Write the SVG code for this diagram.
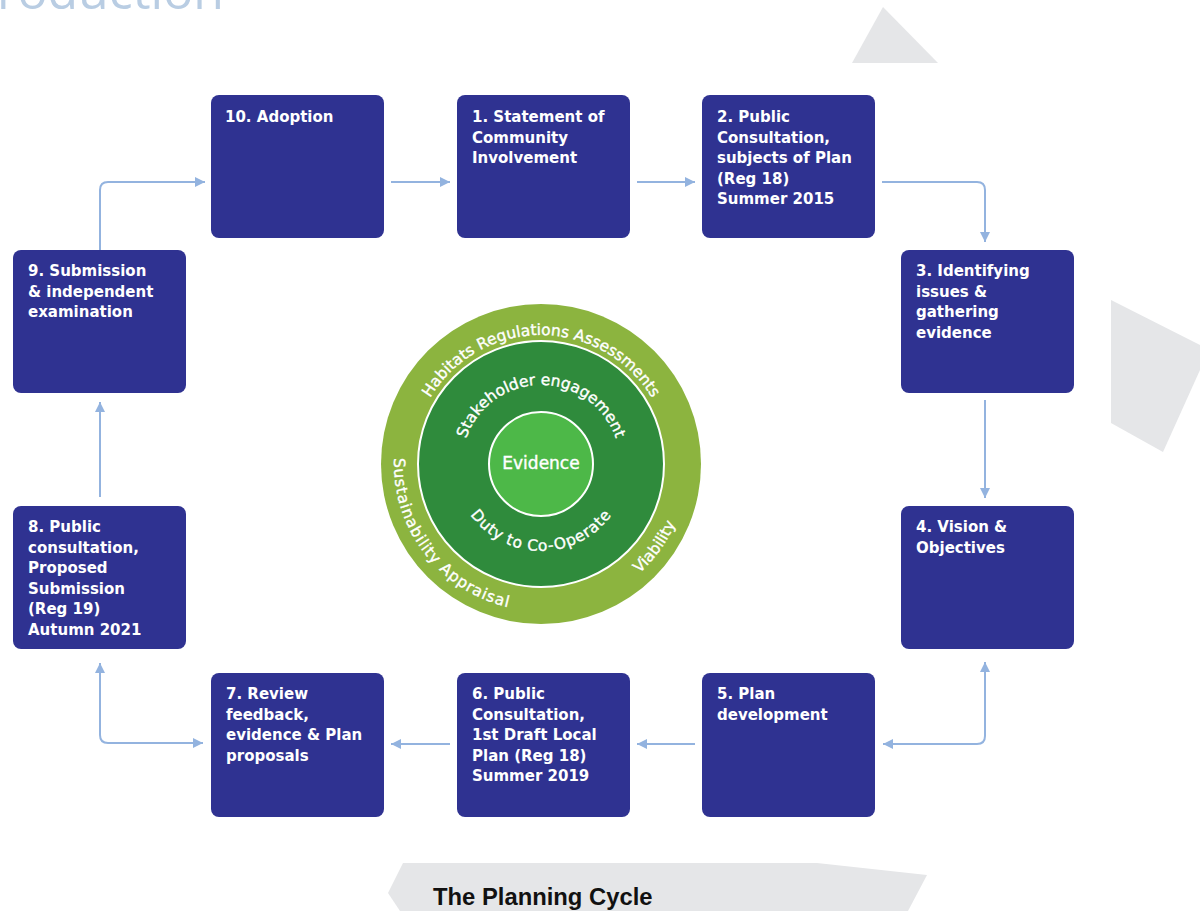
<svg xmlns="http://www.w3.org/2000/svg" width="1200" height="911" viewBox="0 0 1200 911">
  <defs>
    <style>
      .box { fill: #2f3291; }
      .lbl { font-family: "DejaVu Sans", "Liberation Sans", sans-serif; font-weight: 700; font-size: 15px; fill: #ffffff; }
      .link { fill: none; stroke: #93b3df; stroke-width: 2; }
      .ring { font-family: "DejaVu Sans", "Liberation Sans", sans-serif; font-size: 15.5px; fill: #ffffff; stroke: #ffffff; stroke-width: 0.35; }
      .deco { fill: #e5e6e8; }
    </style>
    <marker id="tip" viewBox="0 0 10 10" refX="10" refY="5" markerWidth="10" markerHeight="10" markerUnits="userSpaceOnUse" orient="auto-start-reverse">
      <path d="M0,0 L10,5 L0,10 z" fill="#93b3df"/>
    </marker>
    <!-- arcs for the ring labels, centred on (541,464) -->
    <path id="arcOuterTop" d="M412,464 A129,129 0 0 1 670,464"/>
    <path id="arcMidTop" d="M462,464 A79,79 0 0 1 620,464"/>
    <path id="arcMidBottom" d="M454,464 A87,87 0 0 0 628,464"/>
    <path id="arcOuterLeft" d="M420.6,379.7 A147,147 0 0 0 591.3,602.1"/>
    <path id="arcOuterRight" d="M566.5,608.8 A147,147 0 0 0 686.6,443.5"/>
  </defs>

  <rect width="1200" height="911" fill="#ffffff"/>

  <!-- page background pieces -->
  <g id="background">
    <text x="-3" y="9" font-family="'Open Sans', 'Liberation Sans', sans-serif" font-weight="400" font-size="50" fill="#b9cde3">roduction</text>
    <polygon class="deco" points="883,7 852,63 938,63"/>
    <polygon class="deco" points="1111,300 1200,345 1200,370 1163,452 1111,423"/>
    <polygon class="deco" points="403,863 817,863 927,875 908,911 400,911 388,893"/>
    <text x="433" y="905" font-family="'Liberation Sans', Arial, sans-serif" font-weight="700" font-size="23.8" fill="#111111">The Planning Cycle</text>
  </g>

  <!-- connectors -->
  <g id="connectors">
    <path class="link" d="M100,250 V190 Q100,182 108,182 H205" marker-end="url(#tip)"/>
    <path class="link" d="M391,182 H450" marker-end="url(#tip)"/>
    <path class="link" d="M637,182 H695" marker-end="url(#tip)"/>
    <path class="link" d="M882,182 H977 Q985,182 985,190 V242" marker-end="url(#tip)"/>
    <path class="link" d="M985,400 V498" marker-end="url(#tip)"/>
    <path class="link" d="M883,744 H977 Q985,744 985,736 V662" marker-start="url(#tip)" marker-end="url(#tip)"/>
    <path class="link" d="M695,744 H637" marker-end="url(#tip)"/>
    <path class="link" d="M450,744 H391" marker-end="url(#tip)"/>
    <path class="link" d="M100,663 V735 Q100,743 108,743 H203" marker-start="url(#tip)" marker-end="url(#tip)"/>
    <path class="link" d="M100,497 V402" marker-end="url(#tip)"/>
  </g>

  <!-- central rings -->
  <g id="rings">
    <circle cx="541" cy="464" r="160" fill="#8cb43f"/>
    <circle cx="541" cy="464" r="123" fill="#2f8b3c" stroke="#ffffff" stroke-width="2"/>
    <circle cx="541" cy="464" r="52" fill="#4db848" stroke="#ffffff" stroke-width="2"/>
    <text class="ring"><textPath href="#arcOuterTop" startOffset="50%" text-anchor="middle">Habitats Regulations Assessments</textPath></text>
    <text class="ring"><textPath href="#arcMidTop" startOffset="50%" text-anchor="middle">Stakeholder engagement</textPath></text>
    <text class="ring" letter-spacing="0.7"><textPath href="#arcMidBottom" startOffset="50%" text-anchor="middle">Duty to Co-Operate</textPath></text>
    <text class="ring" letter-spacing="0.9"><textPath href="#arcOuterLeft" startOffset="50%" text-anchor="middle">Sustainability Appraisal</textPath></text>
    <text class="ring"><textPath href="#arcOuterRight" startOffset="50%" text-anchor="middle">Viability</textPath></text>
    <text x="541" y="469" text-anchor="middle" font-family="'DejaVu Sans', 'Liberation Sans', sans-serif" font-size="17" fill="#ffffff" stroke="#ffffff" stroke-width="0.4">Evidence</text>
  </g>

  <!-- stage boxes -->
  <g id="step10">
    <rect class="box" x="211" y="95" width="173" height="143" rx="8"/>
    <text class="lbl" x="225" y="122">10. Adoption</text>
  </g>
  <g id="step1">
    <rect class="box" x="457" y="95" width="173" height="143" rx="8"/>
    <text class="lbl" x="472" y="122"><tspan x="472">1. Statement of</tspan><tspan x="472" dy="20.5">Community</tspan><tspan x="472" dy="20.5">Involvement</tspan></text>
  </g>
  <g id="step2">
    <rect class="box" x="702" y="95" width="173" height="143" rx="8"/>
    <text class="lbl" x="717" y="122"><tspan x="717">2. Public</tspan><tspan x="717" dy="20.5">Consultation,</tspan><tspan x="717" dy="20.5">subjects of Plan</tspan><tspan x="717" dy="20.5">(Reg 18)</tspan><tspan x="717" dy="20.5">Summer 2015</tspan></text>
  </g>
  <g id="step3">
    <rect class="box" x="901" y="250" width="173" height="143" rx="8"/>
    <text class="lbl" x="916" y="276"><tspan x="916">3. Identifying</tspan><tspan x="916" dy="20.5">issues &amp;</tspan><tspan x="916" dy="20.5">gathering</tspan><tspan x="916" dy="20.5">evidence</tspan></text>
  </g>
  <g id="step4">
    <rect class="box" x="901" y="506" width="173" height="143" rx="8"/>
    <text class="lbl" x="916" y="532"><tspan x="916">4. Vision &amp;</tspan><tspan x="916" dy="20.5">Objectives</tspan></text>
  </g>
  <g id="step5">
    <rect class="box" x="702" y="673" width="173" height="144" rx="8"/>
    <text class="lbl" x="717" y="699"><tspan x="717">5. Plan</tspan><tspan x="717" dy="20.5">development</tspan></text>
  </g>
  <g id="step6">
    <rect class="box" x="457" y="673" width="173" height="144" rx="8"/>
    <text class="lbl" x="472" y="699"><tspan x="472">6. Public</tspan><tspan x="472" dy="20.5">Consultation,</tspan><tspan x="472" dy="20.5">1st Draft Local</tspan><tspan x="472" dy="20.5">Plan (Reg 18)</tspan><tspan x="472" dy="20.5">Summer 2019</tspan></text>
  </g>
  <g id="step7">
    <rect class="box" x="211" y="673" width="173" height="144" rx="8"/>
    <text class="lbl" x="226" y="699"><tspan x="226">7. Review</tspan><tspan x="226" dy="20.5">feedback,</tspan><tspan x="226" dy="20.5">evidence &amp; Plan</tspan><tspan x="226" dy="20.5">proposals</tspan></text>
  </g>
  <g id="step8">
    <rect class="box" x="13" y="506" width="173" height="143" rx="8"/>
    <text class="lbl" x="28" y="532"><tspan x="28">8. Public</tspan><tspan x="28" dy="20.5">consultation,</tspan><tspan x="28" dy="20.5">Proposed</tspan><tspan x="28" dy="20.5">Submission</tspan><tspan x="28" dy="20.5">(Reg 19)</tspan><tspan x="28" dy="20.5">Autumn 2021</tspan></text>
  </g>
  <g id="step9">
    <rect class="box" x="13" y="250" width="173" height="143" rx="8"/>
    <text class="lbl" x="28" y="276"><tspan x="28">9. Submission</tspan><tspan x="28" dy="20.5">&amp; independent</tspan><tspan x="28" dy="20.5">examination</tspan></text>
  </g>
</svg>
